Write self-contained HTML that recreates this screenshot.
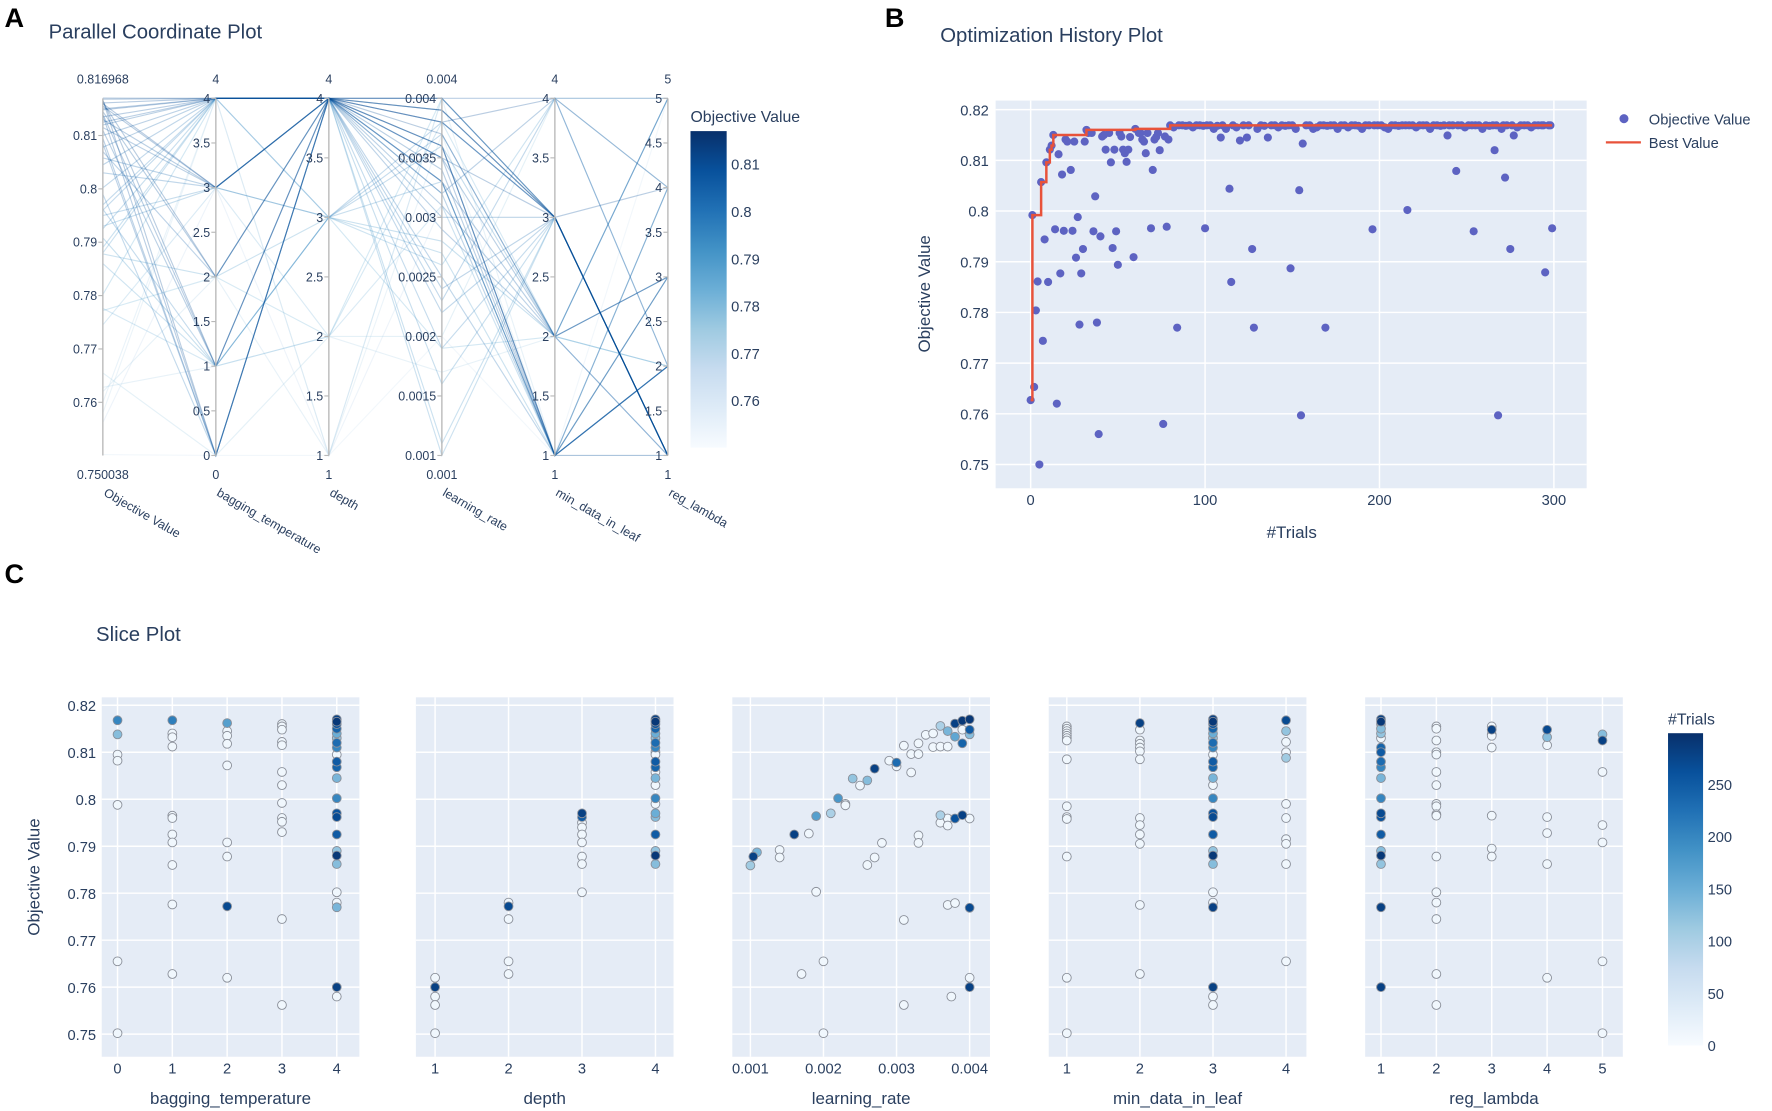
<!DOCTYPE html>
<html><head><meta charset="utf-8">
<style>
html,body{margin:0;padding:0;background:#fff;}
svg{display:block;font-family:"Liberation Sans",sans-serif;}
</style></head>
<body>
<svg id="fig" xmlns="http://www.w3.org/2000/svg" width="1772" height="1111" viewBox="0 0 1568 983" preserveAspectRatio="none"></svg>
<script>
// ---------- History plot data ----------
const histTrials = [0,1,2,3,4,5,6,7,8,9,10,11,12,13,14,15,16,17,18,19,20,21,23,24,25,26,27,28,29,30,31,32,33,35,36,37,38,39,40,41,42,43,45,46,47,48,49,50,51,52,53,54,55,56,57,59,60,62,63,64,65,66,67,69,70,71,72,73,74,76,77,78,79,
80,82,84,85,87,89,91,93,95,97,99,100,101,103,105,107,109,110,112,114,115,116,118,120,122,124,125,127,128,130,132,134,136,138,140,142,144,146,148,149,150,152,154,155,156,158,160,162,164,166,168,169,170,172,174,176,178,180,182,184,186,188,190,192,194,196,197,199,201,203,205,207,209,211,213,215,216,217,219,221,223,225,227,229,231,233,235,237,239,240,242,244,245,247,249,251,253,254,255,257,259,261,263,265,266,267,268,270,271,272,273,275,276,277,279,281,283,285,287,289,291,293,294,295,297,298,299];
const histValues = [0.7627,0.7992,0.7653,0.7804,0.7861,0.7500,0.8057,0.7744,0.7944,0.8096,0.7860,0.8121,0.8129,0.8150,0.7964,0.7620,0.8112,0.7877,0.8072,0.7961,0.8141,0.8137,0.8081,0.7961,0.8137,0.7908,0.7988,0.7776,0.7877,0.7925,0.8137,0.8160,0.8154,0.8154,0.7960,0.8029,0.7780,0.7560,0.7950,0.8147,0.8150,0.8121,0.8154,0.8096,0.7927,0.8121,0.7960,0.7894,0.8154,0.8147,0.8121,0.8114,0.8097,0.8121,0.8146,0.7909,0.8162,0.8154,0.8154,0.8141,0.8137,0.8114,0.8154,0.7966,0.8081,0.8141,0.8146,0.8154,0.8120,0.7580,0.8147,0.7969,0.8141,
0.8169,0.8165,0.7770,0.8169,0.8169,0.8168,0.8169,0.8165,0.8169,0.8169,0.8168,0.7966,0.8169,0.8169,0.8162,0.8168,0.8145,0.8169,0.8162,0.8044,0.7860,0.8169,0.8165,0.8139,0.8169,0.8145,0.8169,0.7925,0.7770,0.8162,0.8169,0.8168,0.8145,0.8169,0.8169,0.8165,0.8169,0.8168,0.8169,0.7887,0.8169,0.8162,0.8041,0.7597,0.8133,0.8169,0.8169,0.8162,0.8165,0.8169,0.8169,0.7770,0.8168,0.8169,0.8169,0.8162,0.8169,0.8169,0.8165,0.8169,0.8169,0.8168,0.8162,0.8169,0.8169,0.7964,0.8169,0.8169,0.8169,0.8165,0.8162,0.8169,0.8169,0.8168,0.8169,0.8169,0.8002,0.8169,0.8169,0.8165,0.8169,0.8169,0.8169,0.8162,0.8169,0.8169,0.8168,0.8169,0.8149,0.8169,0.8169,0.8079,0.8169,0.8169,0.8165,0.8169,0.8169,0.7960,0.8169,0.8169,0.8162,0.8169,0.8168,0.8169,0.8120,0.8169,0.7597,0.8162,0.8169,0.8066,0.8169,0.7925,0.8169,0.8149,0.8165,0.8169,0.8169,0.8169,0.8165,0.8169,0.8169,0.8169,0.8169,0.7879,0.8169,0.8169,0.7966,0.8162];
const histYTicks = [0.75,0.76,0.77,0.78,0.79,0.8,0.81,0.82];
const histXTicks = [0,100,200,300];

// ---------- Parallel coordinates data ----------
const pcObjective = [0.8170,0.8168,0.8167,0.8166,0.8162,0.8161,0.8160,0.8155,0.8150,0.8148,0.8145,0.8140,0.8138,0.8135,0.8130,0.8125,0.8120,0.8115,0.8110,0.8100,0.8095,0.8085,0.8078,0.8070,0.8058,0.8045,0.8030,0.8002,0.7990,0.7970,0.7962,0.7960,0.7950,0.7930,0.7925,0.7908,0.7890,0.7880,0.7878,0.7860,0.7802,0.7776,0.7772,0.7745,0.7655,0.7628,0.7620,0.7600,0.7580,0.7562,0.7502];
const pcBagging   = [4,4,0,1,2,4,3,3,4,4,2,1,0,4,3,4,4,3,1,4,0,0,4,2,3,4,3,4,0,4,1,4,3,3,4,1,4,4,2,1,4,1,2,3,0,1,2,4,4,3,0];
const pcDepth     = [4,4,4,4,4,4,4,4,4,4,4,4,4,4,4,4,4,4,4,4,4,4,4,4,4,4,4,4,4,3,3,4,3,3,4,3,4,4,3,3,3,2,2,2,2,2,1,1,1,1,1];
const pcLR        = [0.0040,0.0039,0.0039,0.0038,0.0037,0.0038,0.0036,0.0036,0.0035,0.0040,0.0036,0.0035,0.0040,0.0038,0.0034,0.0033,0.0039,0.0033,0.0035,0.0032,0.0033,0.0031,0.0030,0.0029,0.0032,0.0024,0.0025,0.0022,0.0023,0.0038,0.0037,0.0019,0.0036,0.0033,0.0016,0.0028,0.0011,0.0010,0.0027,0.0026,0.0019,0.0038,0.0040,0.0031,0.0020,0.0017,0.0040,0.0040,0.0037,0.0031,0.0020];
const pcMinData   = [3,3,3,3,2,4,1,1,3,3,1,1,4,3,1,2,3,1,2,4,1,2,3,2,1,3,1,3,4,3,2,3,2,1,3,2,3,3,1,4,2,2,3,1,4,2,1,3,1,1,1];
const pcRegLambda = [1,1,1,1,3,4,1,2,1,4,3,2,5,1,3,5,1,4,3,2,2,1,1,1,2,1,2,1,2,1,3,1,5,4,1,5,1,1,3,4,2,2,1,2,5,2,4,1,1,2,5];
const pcObjTicks = [0.76,0.77,0.78,0.79,0.8,0.81];
const pcBagTicks = [0,0.5,1,1.5,2,2.5,3,3.5,4];
const pcDepthTicks = [1,1.5,2,2.5,3,3.5,4];
const pcLRTicks = [0.001,0.0015,0.002,0.0025,0.003,0.0035,0.004];
const pcMinDataTicks = [1,1.5,2,2.5,3,3.5,4];
const pcRegTicks = [1,1.5,2,2.5,3,3.5,4,4.5,5];

// ---------- Slice plot data ----------
const bagX = [0,0,0,0,0,0,0, 1,1,1,1,1,1,1,1,1,1,1, 2,2,2,2,2,2,2,2,2, 3,3,3,3,3,3,3,3,3,3,3,3,3, 4,4,4,4,4,4,4,4,4,4,4,4,4,4,4,4,4,4,4,4,4,4,4,4];
const bagY = [0.8168,0.8138,0.8095,0.8082,0.7988,0.7655,0.7502, 0.8168,0.8140,0.8132,0.8112,0.7965,0.7960,0.7925,0.7908,0.7860,0.7776,0.7628, 0.8162,0.8145,0.8135,0.8118,0.8072,0.7908,0.7878,0.7772,0.7620, 0.8160,0.8155,0.8148,0.8122,0.8115,0.8058,0.8030,0.7992,0.7960,0.7952,0.7930,0.7745,0.7562, 0.8170,0.8165,0.8160,0.8150,0.8140,0.8130,0.8120,0.8110,0.8095,0.8080,0.8068,0.8045,0.8002,0.7970,0.7962,0.7925,0.7890,0.7880,0.7862,0.7802,0.7780,0.7770,0.7600,0.7580];
const bagT = [200,130,10,10,10,10,10, 210,10,10,10,10,10,10,10,10,10,10, 170,10,10,10,10,10,10,270,10, 10,10,10,10,10,10,10,10,10,10,10,10,10, 280,290,260,240,150,120,230,200,10,250,240,140,200,260,270,250,120,290,130,10,10,140,280,10];
const depthX = [1,1,1,1,1, 2,2,2,2,2, 3,3,3,3,3,3,3,3,3, 4,4,4,4,4,4,4,4,4,4,4,4,4,4,4,4,4,4,4,4,4,4,4];
const depthY = [0.7620,0.7600,0.7580,0.7562,0.7502, 0.7780,0.7772,0.7745,0.7655,0.7628, 0.7970,0.7962,0.7950,0.7940,0.7925,0.7908,0.7878,0.7862,0.7802, 0.8170,0.8165,0.8160,0.8150,0.8140,0.8130,0.8120,0.8110,0.8100,0.8095,0.8080,0.8068,0.8058,0.8045,0.8030,0.8002,0.7990,0.7970,0.7962,0.7925,0.7890,0.7880,0.7862];
const depthT = [10,280,10,10,10, 10,270,10,10,10, 280,250,10,10,10,10,10,10,10, 280,290,260,240,150,120,230,200,10,10,250,240,10,140,10,200,10,150,130,250,120,290,130];
const lrX = [0.0010,0.00104,0.00109,0.0014,0.0014,0.0016,0.0018,0.0019,0.0019,0.0021,0.0022,0.0023,0.0023,0.0024,0.0025,0.0026,0.0026,0.0027,0.0027,0.0028,0.0029,0.0030,0.0030,0.0031,0.0031,0.0032,0.0032,0.0033,0.0033,0.0033,0.0033,0.0034,0.0035,0.0035,0.0036,0.0036,0.0036,0.0036,0.0037,0.0037,0.0037,0.0037,0.0037,0.0038,0.0038,0.0038,0.0038,0.0039,0.0039,0.0039,0.0039,0.0040,0.0040,0.0040,0.0040,0.0040,0.0017,0.0020,0.0020,0.0031,0.00375,0.0040,0.0040];
const lrY = [0.7859,0.7878,0.7887,0.7892,0.7876,0.7925,0.7927,0.7964,0.7803,0.7970,0.8002,0.7990,0.7987,0.8044,0.8029,0.8040,0.7860,0.8065,0.7876,0.7907,0.8082,0.8078,0.8070,0.8114,0.7743,0.8096,0.8057,0.8119,0.8096,0.7923,0.7907,0.8137,0.8140,0.8111,0.8156,0.8112,0.7966,0.7950,0.8145,0.8112,0.7959,0.7944,0.7775,0.8161,0.8133,0.7959,0.7779,0.8167,0.8148,0.8119,0.7966,0.8170,0.8148,0.8138,0.7959,0.7769,0.7628,0.7655,0.7502,0.7562,0.7580,0.7620,0.7600];
const lrT = [110,280,140,10,10,280,10,170,10,100,180,10,10,120,10,130,10,280,10,10,10,230,10,10,10,10,10,10,10,10,10,10,10,10,100,10,100,10,140,10,10,10,10,280,160,260,10,290,10,240,280,290,250,130,10,270,10,10,10,10,10,10,280];
const mdlX = [1,1,1,1,1, 1,1,1,1,1, 1,1,1,1,
  2,2,2,2,2, 2,2,2,2,2, 2,2,2,
  3,3,3,3,3, 3,3,3,3,3, 3,3,3,3,3, 3,3,3,3,3, 3,3,3,3,3, 3,
  4,4,4,4,4, 4,4,4,4,4, 4];
const mdlY = [0.8155,0.8150,0.8145,0.8140,0.8135,0.8130,0.8125,0.8085,0.7985,0.7962,0.7958,0.7878,0.7620,0.7502, 0.8162,0.8148,0.8125,0.8118,0.8110,0.8102,0.8085,0.7960,0.7945,0.7925,0.7905,0.7775,0.7628, 0.8170,0.8165,0.8160,0.8150,0.8140,0.8130,0.8120,0.8110,0.8095,0.8080,0.8068,0.8045,0.8030,0.8002,0.7970,0.7962,0.7925,0.7890,0.7880,0.7862,0.7802,0.7780,0.7770,0.7600,0.7580,0.7562, 0.8168,0.8145,0.8122,0.8100,0.8088,0.7990,0.7960,0.7915,0.7905,0.7862,0.7655];
const mdlT = [10,10,10,10,10,10,10,10,10,10,10,10,10,10, 280,10,10,10,10,10,10,10,10,10,10,10,10, 280,290,260,240,150,120,230,200,10,250,240,140,10,200,260,270,250,120,290,130,10,10,280,280,10,10, 270,120,10,10,110,10,10,10,10,10,10];
const regX = [1,1,1,1,1,1,1,1,1,1,1,1,1,1,1,1,1,1,1,1, 2,2,2,2,2,2,2,2,2,2,2,2,2,2,2,2,2, 3,3,3,3,3,3,3,3, 4,4,4,4,4,4,4, 5,5,5,5,5,5,5];
const regY = [0.8170,0.8165,0.8160,0.8150,0.8140,0.8130,0.8110,0.8100,0.8080,0.8068,0.8045,0.8002,0.7970,0.7962,0.7925,0.7890,0.7880,0.7862,0.7770,0.7600, 0.8155,0.8150,0.8125,0.8100,0.8095,0.8058,0.8030,0.7990,0.7985,0.7968,0.7965,0.7878,0.7802,0.7780,0.7745,0.7628,0.7562, 0.8155,0.8148,0.8138,0.8135,0.8110,0.7965,0.7895,0.7878, 0.8148,0.8132,0.8115,0.7962,0.7928,0.7862,0.7620, 0.8138,0.8125,0.8058,0.7945,0.7908,0.7655,0.7502];
const regT = [280,290,120,130,120,10,240,250,230,200,140,200,270,260,250,130,290,120,280,280, 10,10,10,10,10,10,10,10,10,10,10,10,10,10,10,10,10, 10,280,10,10,10,10,10,10, 270,130,10,10,10,10,10, 130,280,10,10,10,10,10];
const sliceYTicks = [0.75,0.76,0.77,0.78,0.79,0.8,0.81,0.82];
const bagTicks = [0,1,2,3,4];
const depthTicks = [1,2,3,4];
const lrTicks = [0.001,0.002,0.003,0.004];
const mdlTicks = [1,2,3,4];
const regTicks = [1,2,3,4,5];
const trialCbTicks = [0,50,100,150,200,250];
const objCbTicks = [0.76,0.77,0.78,0.79,0.8,0.81];

// ---------- helpers ----------
const NS = 'http://www.w3.org/2000/svg';
const svg = document.getElementById('fig');
function mk(tag, attrs, parent) {
  const e = document.createElementNS(NS, tag);
  for (const k in attrs) e.setAttribute(k, attrs[k]);
  (parent || svg).appendChild(e);
  return e;
}
function txt(str, x, y, size, color, anchor, parent) {
  const t = mk('text', {x: x, y: y, 'font-size': size, fill: color || '#2a3f5f', 'text-anchor': anchor || 'start'}, parent);
  t.textContent = str;
  return t;
}
function lin(d0, d1, r0, r1) { return v => r0 + (v - d0) / (d1 - d0) * (r1 - r0); }
const blues = [[0,[247,251,255]],[0.125,[222,235,247]],[0.25,[198,219,239]],[0.375,[158,202,225]],[0.5,[107,174,214]],[0.625,[66,146,198]],[0.75,[33,113,181]],[0.875,[8,81,156]],[1,[8,48,107]]];
function blue(f) {
  f = Math.max(0, Math.min(1, f));
  for (let i = 1; i < blues.length; i++) {
    if (f <= blues[i][0]) {
      const a = blues[i-1], b = blues[i], t = (f - a[0]) / (b[0] - a[0]);
      const c = a[1].map((v, j) => Math.round(v + (b[1][j] - v) * t));
      return 'rgb(' + c.join(',') + ')';
    }
  }
  return 'rgb(8,48,107)';
}
function gradient(id) {
  let defs = svg.querySelector('defs') || mk('defs', {});
  const g = mk('linearGradient', {id: id, x1: 0, y1: 1, x2: 0, y2: 0}, defs);
  blues.forEach(s => mk('stop', {offset: s[0], 'stop-color': 'rgb(' + s[1].join(',') + ')'}, g));
}
gradient('bluesGrad');
const TC = '#2a3f5f';

// ---------- panel letters & titles ----------
let el;
el = txt('A', 4, 24, 24, '#000'); el.setAttribute('font-weight', 'bold');


el = txt('B', 783, 24, 24, '#000'); el.setAttribute('font-weight', 'bold');


el = txt('C', 4, 516, 24, '#000'); el.setAttribute('font-weight', 'bold');


el = txt('Parallel Coordinate Plot', 43, 34, 18, TC);


el = txt('Optimization History Plot', 832, 37, 18, TC);


el = txt('Slice Plot', 85, 567, 18, TC);



// ---------- Parallel coordinate plot ----------
const pcG = mk('g', {});


const pcTop = 87, pcBot = 403;
const pcAxes = [
  {name: 'Objective Value', x: 91, d0: 0.750038, d1: 0.816968, ticks: pcObjTicks, lo: '0.750038', hi: '0.816968', data: pcObjective},
  {name: 'bagging_temperature', x: 191, d0: 0, d1: 4, ticks: pcBagTicks, lo: '0', hi: '4', data: pcBagging},
  {name: 'depth', x: 291, d0: 1, d1: 4, ticks: pcDepthTicks, lo: '1', hi: '4', data: pcDepth},
  {name: 'learning_rate', x: 391, d0: 0.001, d1: 0.004, ticks: pcLRTicks, lo: '0.001', hi: '0.004', data: pcLR},
  {name: 'min_data_in_leaf', x: 491, d0: 1, d1: 4, ticks: pcMinDataTicks, lo: '1', hi: '4', data: pcMinData},
  {name: 'reg_lambda', x: 591, d0: 1, d1: 5, ticks: pcRegTicks, lo: '1', hi: '5', data: pcRegLambda}
];
pcAxes.forEach(a => { a.y = lin(a.d0, a.d1, pcBot, pcTop); });
const objColor = lin(0.750038, 0.816968, 0, 1);
const order = pcObjective.map((v, i) => i).sort((a, b) => pcObjective[a] - pcObjective[b]);
order.forEach(i => {
  const pts = pcAxes.map(a => a.x + ',' + a.y(a.data[i]).toFixed(1)).join(' ');
  const pl = mk('polyline', {points: pts, fill: 'none', stroke: blue(0.2 + 0.7 * objColor(pcObjective[i])), 'stroke-width': 1, 'stroke-opacity': 0.28}, pcG);
  
  
});
pcAxes.forEach(a => {
  const g = mk('g', {}, pcG);
  
  
  mk('line', {x1: a.x, y1: pcTop, x2: a.x, y2: pcBot, stroke: '#b8b8b8', 'stroke-width': 1.2}, g);
  a.ticks.forEach(t => {
    const yy = a.y(t);
    mk('line', {x1: a.x - 4, y1: yy, x2: a.x, y2: yy, stroke: '#b8b8b8', 'stroke-width': 1}, g);
    const tl = txt(String(t), a.x - 5, yy + 4, 11, TC, 'end', g);
    
    
  });
  const hi = txt(a.hi, a.x, 74, 11, TC, 'middle', g);
  
  
  const lo = txt(a.lo, a.x, 424, 11, TC, 'middle', g);
  
  
  const nm = txt(a.name, a.x, 438, 11, TC, 'start', g);
  nm.setAttribute('transform', 'rotate(30 ' + a.x + ' 438)');
  
  
});
const cbA = mk('g', {});


mk('rect', {x: 611, y: 116, width: 32, height: 280, fill: 'url(#bluesGrad)'}, cbA);
const cbAy = lin(0.750038, 0.816968, 396, 116);
objCbTicks.forEach(t => {
  const l = txt(String(t), 647, cbAy(t) + 5, 13, TC, 'start', cbA);
  
  
});
el = txt('Objective Value', 611, 108, 14, TC, 'start', cbA);



// ---------- Optimization history ----------
const hG = mk('g', {});


const hx = lin(0, 300, 912, 1375), hy = lin(0.75, 0.82, 411, 97);
const hL = 881, hR = 1404, hT = 89, hB = 432;
el = mk('rect', {x: hL, y: hT, width: hR - hL, height: hB - hT, fill: '#e5ecf6'}, hG);


histYTicks.forEach(t => {
  mk('line', {x1: hL, x2: hR, y1: hy(t), y2: hy(t), stroke: '#fff', 'stroke-width': 1.3}, hG);
  const l = txt(String(t), hL - 6, hy(t) + 5, 13, TC, 'end', hG);
  
  
});
histXTicks.forEach(t => {
  mk('line', {x1: hx(t), x2: hx(t), y1: hT, y2: hB, stroke: '#fff', 'stroke-width': 1.3}, hG);
  const l = txt(String(t), hx(t), 447, 13, TC, 'middle', hG);
  
  
});
const hIdx = histTrials.map((v, i) => i).sort((a, b) => histTrials[a] - histTrials[b]);
hIdx.forEach(i => {
  const c = mk('circle', {cx: hx(histTrials[i]), cy: hy(histValues[i]), r: 3.6, fill: '#5d63c2'}, hG);
  
  
});
let best = -Infinity, d = '';
hIdx.forEach((i, k) => {
  const v = histValues[i];
  const x = hx(histTrials[i]);
  if (k === 0) { best = v; d = 'M' + x + ',' + hy(best); }
  else { d += ' L' + x + ',' + hy(best); if (v > best) { best = v; d += ' L' + x + ',' + hy(best); } }
});
el = mk('path', {d: d, fill: 'none', stroke: '#e8523a', 'stroke-width': 2.2}, hG);


el = txt('#Trials', 1143, 476, 15, TC, 'middle', hG);


el = txt('Objective Value', 0, 0, 15, TC, 'middle', hG);
el.setAttribute('transform', 'translate(823 260) rotate(-90)');


const lg = mk('g', {}, hG);


mk('circle', {cx: 1437, cy: 105, r: 4, fill: '#5d63c2'}, lg);
el = txt('Objective Value', 1459, 110, 13, TC, 'start', lg);


mk('line', {x1: 1421, x2: 1452, y1: 126, y2: 126, stroke: '#e8523a', 'stroke-width': 2}, lg);
el = txt('Best Value', 1459, 131, 13, TC, 'start', lg);



// ---------- Slice plots ----------
const sy = lin(0.75, 0.82, 915, 624);
const sT = 617, sB = 935;
const panels = [
  {name: 'bagging_temperature', L: 90, R: 318, d0: 0, d1: 4, p0: 104, p1: 298, ticks: bagTicks, xs: bagX, ys: bagY, ts: bagT},
  {name: 'depth', L: 368, R: 596, d0: 1, d1: 4, p0: 385, p1: 580, ticks: depthTicks, xs: depthX, ys: depthY, ts: depthT},
  {name: 'learning_rate', L: 648, R: 876, d0: 0.001, d1: 0.004, p0: 664, p1: 858, ticks: lrTicks, xs: lrX, ys: lrY, ts: lrT},
  {name: 'min_data_in_leaf', L: 928, R: 1156, d0: 1, d1: 4, p0: 944, p1: 1138, ticks: mdlTicks, xs: mdlX, ys: mdlY, ts: mdlT},
  {name: 'reg_lambda', L: 1208, R: 1436, d0: 1, d1: 5, p0: 1222, p1: 1418, ticks: regTicks, xs: regX, ys: regY, ts: regT}
];
panels.forEach((p, pi) => {
  const g = mk('g', {});
  
  
  const sx = lin(p.d0, p.d1, p.p0, p.p1);
  el = mk('rect', {x: p.L, y: sT, width: p.R - p.L, height: sB - sT, fill: '#e5ecf6'}, g);
  
  
  sliceYTicks.forEach(t => {
    mk('line', {x1: p.L, x2: p.R, y1: sy(t), y2: sy(t), stroke: '#fff', 'stroke-width': 1.3}, g);
    if (pi === 0) {
      const l = txt(String(t), p.L - 5, sy(t) + 5, 13, TC, 'end', g);
      
      
    }
  });
  p.ticks.forEach(t => {
    mk('line', {x1: sx(t), x2: sx(t), y1: sT, y2: sB, stroke: '#fff', 'stroke-width': 1.3}, g);
    const l = txt(String(t), sx(t), 950, 13, TC, 'middle', g);
    
    
  });
  const n = Math.min(p.xs.length, p.ys.length, p.ts.length);
  const idx = [];
  for (let i = 0; i < n; i++) idx.push(i);
  idx.sort((a, b) => p.ts[a] - p.ts[b]);
  idx.forEach(i => {
    const c = mk('circle', {cx: sx(p.xs[i]), cy: sy(p.ys[i]), r: 3.9, fill: blue(p.ts[i] / 299), stroke: '#8a8f99', 'stroke-width': 0.8}, g);
    
    
  });
  el = txt(p.name, (p.L + p.R) / 2, 977, 15, TC, 'middle', g);
  
  
});
el = txt('Objective Value', 0, 0, 15, TC, 'middle');
el.setAttribute('transform', 'translate(35 776) rotate(-90)');


const cbC = mk('g', {});


const cbCy = lin(0, 250, 925, 694);
mk('rect', {x: 1476, y: cbCy(299), width: 31, height: cbCy(0) - cbCy(299), fill: 'url(#bluesGrad)'}, cbC);
trialCbTicks.forEach(t => {
  const l = txt(String(t), 1511, cbCy(t) + 5, 13, TC, 'start', cbC);
  
  
});
el = txt('#Trials', 1476, 641, 14, TC, 'start', cbC);


</script>
</body></html>
